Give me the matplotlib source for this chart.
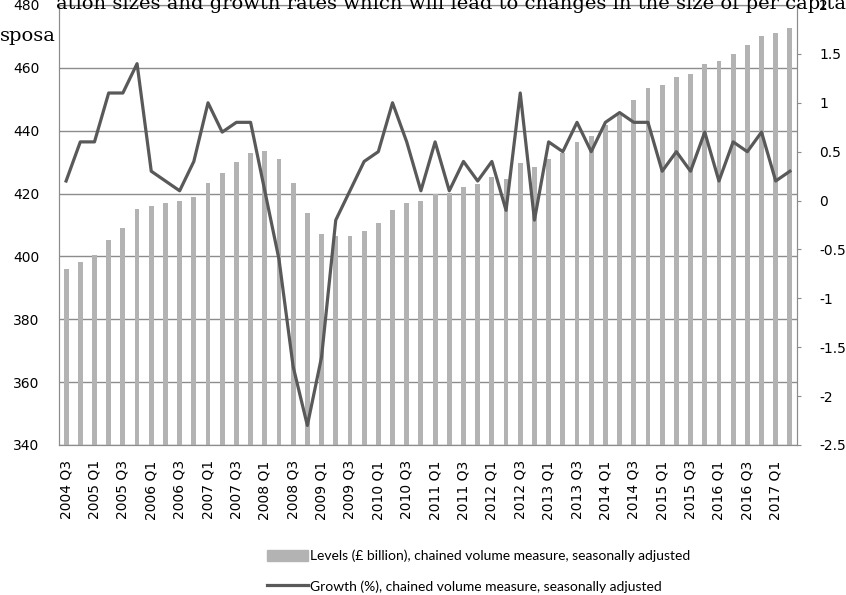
import numpy as np
import matplotlib.pyplot as plt
from matplotlib.patches import Patch
from matplotlib.lines import Line2D

# quarters 2004 Q3 .. 2017 Q2
quarters = [f"{y} Q{q}" for y in range(2004, 2018) for q in range(1, 5)][2:54]

levels = [396.1, 398.1, 400.6, 405.1, 409.1, 415.0, 416.1, 417.0, 417.6, 419.0,
          423.4, 426.5, 430.0, 433.0, 433.5, 431.0, 423.5, 413.9, 407.0, 406.6,
          406.6, 408.1, 410.6, 414.7, 417.1, 417.6, 420.0, 420.2, 422.2, 423.2,
          425.3, 424.7, 429.7, 428.5, 430.9, 433.0, 436.4, 438.3, 441.9, 445.0,
          449.7, 453.7, 454.5, 457.1, 458.1, 461.2, 462.1, 464.5, 467.2, 470.1,
          471.1, 472.6]

growth = [0.2, 0.6, 0.6, 1.1, 1.1, 1.4, 0.3, 0.2, 0.1, 0.4,
          1.0, 0.7, 0.8, 0.8, 0.1, -0.6, -1.7, -2.3, -1.6, -0.2,
          0.1, 0.4, 0.5, 1.0, 0.6, 0.1, 0.6, 0.1, 0.4, 0.2,
          0.4, -0.1, 1.1, -0.2, 0.6, 0.5, 0.8, 0.5, 0.8, 0.9,
          0.8, 0.8, 0.3, 0.5, 0.3, 0.7, 0.2, 0.6, 0.5, 0.7,
          0.2, 0.3]

left_ticks = [340, 360, 380, 400, 420, 440, 460, 480]
right_ticks = [-2.5, -2, -1.5, -1, -0.5, 0, 0.5, 1, 1.5, 2]

bar_col = '#b3b3b3'
line_col = '#595959'
axis_col = '#8c8c8c'
tick_font = 'DejaVu Sans'

fig = plt.figure(figsize=(8.46, 5.95), dpi=100)

ax = fig.add_axes([59/846, 1 - 445/595, (797 - 59)/846, (445 - 5)/595])
ax.set_facecolor('white')
x = np.arange(len(levels))
ax.bar(x, levels, width=0.34, color=bar_col, zorder=2)
ax.set_xlim(-0.5, len(levels) - 0.5)
ax.set_ylim(340, 480)
ax.set_yticks(left_ticks)
ax.yaxis.grid(True, color=axis_col, lw=1)
ax.set_axisbelow(True)
ax.tick_params(axis='y', length=0, pad=14, labelsize=10, labelfontfamily=tick_font)
ax.set_xticks(x[::2])
ax.set_xticklabels(quarters[::2], rotation=90, fontsize=10, family=tick_font)
ax.tick_params(axis='x', length=0, pad=11)
for s in ax.spines.values():
    s.set_color(axis_col)

ax2 = ax.twinx()
ax2.plot(x, growth, color=line_col, lw=2.3, zorder=3)
ax2.set_ylim(-2.5, 2)
ax2.set_yticks(right_ticks)
ax2.set_yticklabels([f"{t:g}" for t in right_ticks])
ax2.tick_params(axis='y', length=3, color=axis_col, pad=13, labelsize=10,
                labelfontfamily=tick_font)
for s in ax2.spines.values():
    s.set_color(axis_col)

handles = [Patch(color=bar_col), Line2D([], [], color=line_col, lw=2.3)]
labels = ["Levels (£ billion), chained volume measure, seasonally adjusted",
          "Growth (%), chained volume measure, seasonally adjusted"]
fig.legend(handles, labels, loc='upper left', bbox_to_anchor=(254/846, 1 - 537/595),
           frameon=False, prop={'family': 'Lato', 'size': 10}, handlelength=3.0,
           handleheight=0.9, handletextpad=0.15, labelspacing=1.3)

# stray text from the page the chart was cut from
fig.text(1.0, 1 - 9/595,
         "ation sizes and growth rates which will lead to changes in the size of per capita",
         ha='right', va='baseline', fontsize=14, family='DejaVu Serif', zorder=10)
fig.text(0.0, 1 - 41/595, "sposa", ha='left', va='baseline', fontsize=14,
         family='DejaVu Serif', zorder=10)

fig.savefig("out.png", dpi=100)
plt.close()
